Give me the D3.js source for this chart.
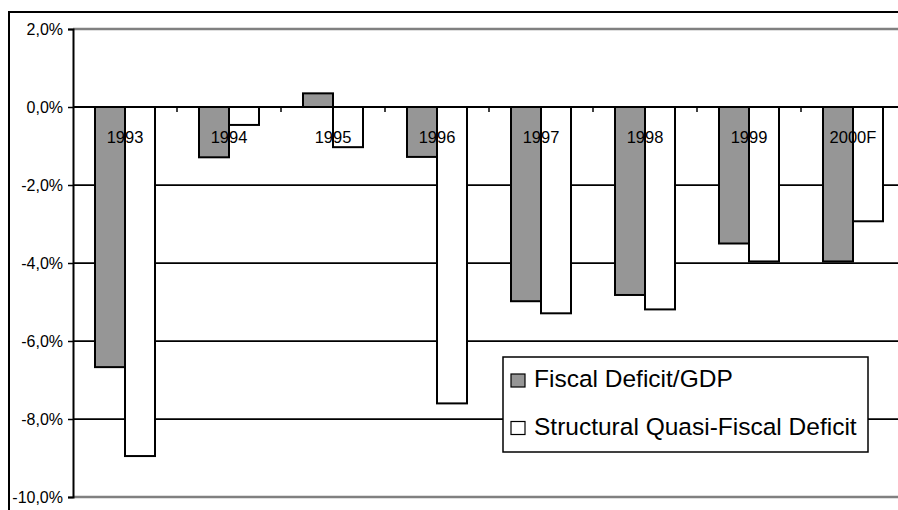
<!DOCTYPE html>
<html>
<head>
<meta charset="utf-8">
<script src="https://cdn.jsdelivr.net/npm/d3@7"></script>
<style>
  html, body { margin: 0; padding: 0; background: #fff; }
  svg { display: block; font-family: Arial, "Liberation Sans", sans-serif; }
</style>
</head>
<body>
<svg id="chart" width="898" height="510"></svg>
<script>
// Fiscal balances as a share of GDP, 1993 to 2000 (forecast)
const years = ["1993", "1994", "1995", "1996", "1997", "1998", "1999", "2000F"];
const fiscalDeficit = [-6.67, -1.29, 0.35, -1.28, -4.98, -4.82, -3.50, -3.96];
const structuralDeficit = [-8.95, -0.46, -1.03, -7.60, -5.29, -5.19, -3.96, -2.93];
const seriesNames = ["Fiscal Deficit/GDP", "Structural Quasi-Fiscal Deficit"];
const yTicks = [2, 0, -2, -4, -6, -8, -10];

const svg = d3.select("#chart");
const plot = { left: 73, right: 905, top: 29, bottom: 497 };

const x = d3.scaleBand().domain(years).range([plot.left, plot.right]).paddingInner(0).paddingOuter(0);
const inner = d3.scaleBand().domain([0, 1]).range([22, 82]);
const y = d3.scaleLinear().domain([-10, 2]).range([plot.bottom, plot.top]);
const fmt = v => d3.format(".1f")(v).replace(".", ",").replace("−", "-") + "%";

// outer frame
svg.append("rect").attr("x", 9).attr("y", 12).attr("width", 900).attr("height", 510)
  .attr("fill", "none").attr("stroke", "#000").attr("stroke-width", 2);

// gridlines (plot edges in grey, inner lines in black)
svg.append("g").selectAll("line").data(yTicks).join("line")
  .attr("x1", plot.left).attr("x2", plot.right)
  .attr("y1", d => y(d)).attr("y2", d => y(d))
  .attr("stroke", d => (d === 2 || d === -10) ? "#808080" : "#000")
  .attr("stroke-width", d => (d === 2 || d === -10) ? 2.5 : 1.75);

// bars
const series = [
  { values: fiscalDeficit, fill: "#969696" },
  { values: structuralDeficit, fill: "#ffffff" }
];
series.forEach((s, si) => {
  svg.append("g").selectAll("rect").data(years).join("rect")
    .attr("x", (d) => x(d) + inner(si))
    .attr("width", inner.bandwidth())
    .attr("y", (d, i) => y(Math.max(0, s.values[i])))
    .attr("height", (d, i) => Math.abs(y(s.values[i]) - y(0)))
    .attr("fill", s.fill)
    .attr("stroke", "#000")
    .attr("stroke-width", 2);
});

// zero line with category ticks
svg.append("line").attr("x1", plot.left).attr("x2", plot.right)
  .attr("y1", y(0)).attr("y2", y(0)).attr("stroke", "#000").attr("stroke-width", 2);
svg.append("g").selectAll("line").data(years.slice(1)).join("line")
  .attr("x1", d => x(d)).attr("x2", d => x(d))
  .attr("y1", y(0)).attr("y2", y(0) + 5)
  .attr("stroke", "#000").attr("stroke-width", 1.5);

// category labels just below the zero line
svg.append("g").selectAll("text").data(years).join("text")
  .attr("x", d => x(d) + x.bandwidth() / 2)
  .attr("y", y(0) + 36)
  .attr("text-anchor", "middle")
  .attr("font-size", 16.5)
  .attr("fill", "#000")
  .text(d => d);

// value axis
const yAxis = d3.axisLeft(y).tickValues(yTicks).tickFormat(fmt).tickSize(5).tickPadding(5);
const ga = svg.append("g").attr("transform", `translate(${plot.left},0)`).call(yAxis);
ga.select(".domain").attr("stroke", "#000").attr("stroke-width", 2);
ga.selectAll(".tick line").attr("stroke", "#000").attr("stroke-width", 1.5);
ga.selectAll(".tick text").attr("font-size", 16).attr("fill", "#000")
  .attr("font-family", "Arial, 'Liberation Sans', sans-serif");

// legend
const lg = svg.append("g").attr("transform", "translate(503,357)");
lg.append("rect").attr("width", 365).attr("height", 95)
  .attr("fill", "#fff").attr("stroke", "#000").attr("stroke-width", 1.5);
const rows = lg.selectAll("g.row").data(seriesNames).join("g").attr("class", "row")
  .attr("transform", (d, i) => `translate(0,${17 + i * 47.5})`);
rows.append("rect").attr("x", 8).attr("y", 0).attr("width", 14).attr("height", 13)
  .attr("fill", (d, i) => series[i].fill).attr("stroke", "#000").attr("stroke-width", 1.2);
rows.append("text").attr("x", 31).attr("y", 13).attr("font-size", 24.5).attr("fill", "#000")
  .text(d => d);
</script>
</body>
</html>
